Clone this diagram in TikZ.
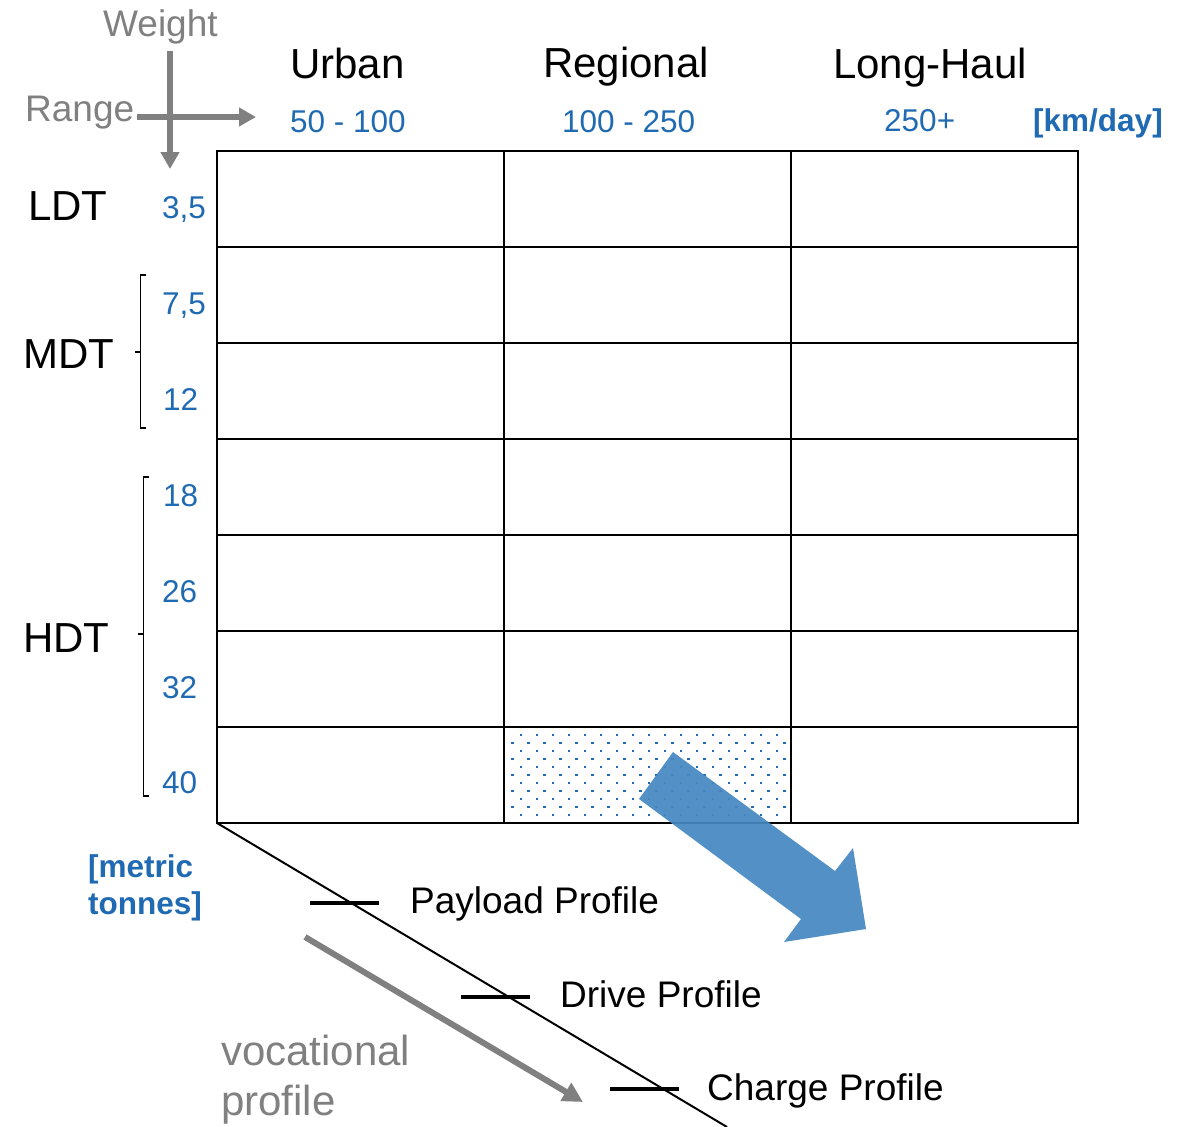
\documentclass[tikz,border=0pt]{standalone}
\usepackage{fontspec}
\setmainfont{Liberation Sans}
\usetikzlibrary{arrows.meta}
\definecolor{tblue}{RGB}{31,106,178}
\definecolor{tgray}{RGB}{128,128,128}
\definecolor{abl}{RGB}{70,136,194}
\tikzset{
  lbl/.style={inner sep=0pt,anchor=base west,font=\fontsize{42}{48}\selectfont},
  num/.style={inner sep=0pt,anchor=base west,text=tblue,font=\fontsize{31.5}{36}\selectfont},
  bnum/.style={inner sep=0pt,anchor=base west,text=tblue,font=\fontsize{31.5}{36}\selectfont\bfseries},
  ax/.style={draw=tgray,line width=5.5pt,-{Triangle[length=17pt,width=18pt]}},
  axlbl/.style={inner sep=0pt,anchor=base west,text=tgray,font=\fontsize{37}{42}\selectfont},
  voc/.style={inner sep=0pt,anchor=base west,text=tgray,font=\fontsize{42}{48}\selectfont},
  prof/.style={inner sep=0pt,anchor=base west,font=\fontsize{37}{42}\selectfont},
  gridline/.style={line width=2.8pt},
  brk/.style={line width=1.3pt},
  tick/.style={line width=3.2pt},
}
\begin{document}
\begin{tikzpicture}[x=1pt,y=-1pt]
\useasboundingbox (0,0) rectangle (1186,1127);
% dotted cell
\foreach \r in {0,2,...,10}{\foreach \c in {0,...,16}{\fill[tblue] ({520.7+16*\c-1},{734.7+8*\r-1}) rectangle +(2.2,2.2);}}
\foreach \r in {1,3,...,9}{\foreach \c in {0,...,17}{\fill[tblue] ({512.3+16*\c-1},{734.7+8*\r-1}) rectangle +(2.2,2.2);}}
% grid
\draw[gridline] (217,151) rectangle (1078,823);
\foreach \x in {504,791}{\draw[gridline] (\x,151) -- (\x,823);}
\foreach \y in {247,343,439,535,631,727}{\draw[gridline] (217,\y) -- (1078,\y);}
% axes
\coordinate (wtop) at (170,51);
\coordinate (wbot) at (170,169);
\coordinate (rl) at (137,117);
\coordinate (rr) at (256,117);
\draw[ax] (wtop) -- (wbot);
\draw[ax] (rl) -- (rr);
\node[axlbl] (weight) at (103,36) {Weight};
\node[axlbl] (range) at (25,121) {Range};
% headers
\node[lbl] (urban) at (290,78) {Urban};
\node[lbl] (regional) at (543,77) {Regional};
\node[lbl] (longhaul) at (833,78) {Long-Haul};
\node[num] (r1) at (290,132) {50 - 100};
\node[num] (r2) at (562,132) {100 - 250};
\node[num] (r3) at (884,131) {250+};
\node[bnum] (unit) at (1033,131) {[km/day]};
% row labels
\node[lbl] (ldt) at (28,220) {LDT};
\node[lbl] (mdt) at (23,368) {MDT};
\node[lbl] (hdt) at (23,652) {HDT};
\node[num] (w1) at (162,218) {3,5};
\node[num] (w2) at (162,314) {7,5};
\node[num] (w3) at (163,410) {12};
\node[num] (w4) at (163,506) {18};
\node[num] (w5) at (162,602) {26};
\node[num] (w6) at (162,698) {32};
\node[num] (w7) at (162,793) {40};
\node[bnum] (mt1) at (88,877) {[metric};
\node[bnum] (mt2) at (88,914) {tonnes]};
% brackets
\draw[brk] (146,275) -- (140.5,275) -- (140.5,428) -- (146,428);
\draw[brk] (140.5,352) -- (135,352);
\draw[brk] (149,477) -- (143.5,477) -- (143.5,796) -- (149,796);
\draw[brk] (143.5,634) -- (138,634);
% blue arrow
\fill[abl,opacity=0.93] (673,752) -- (835,871) -- (853,848) -- (866,929) -- (784,942) -- (801,919) -- (639,799) -- cycle;
% diagonal profile axis
\coordinate (d0) at (217,823);
\coordinate (d1) at (727,1127);
\draw[line width=2pt] (d0) -- (d1);
\draw[tick] (310,903) -- (379,903);
\draw[tick] (461,997) -- (530,997);
\draw[tick] (610,1089) -- (679,1089);
\node[prof] (payload) at (410,913) {Payload Profile};
\node[prof] (drive) at (560,1007) {Drive Profile};
\node[prof] (charge) at (707,1100) {Charge Profile};
% vocational arrow
\coordinate (v0) at (305,937);
\coordinate (v1) at (583,1102);
\draw[draw=tgray,line width=6pt,-{Triangle[length=20pt,width=20pt]}] (v0) -- (v1);
\node[voc] (voc1) at (221,1065) {vocational};
\node[voc] (voc2) at (221,1115) {profile};
\end{tikzpicture}
\end{document}
